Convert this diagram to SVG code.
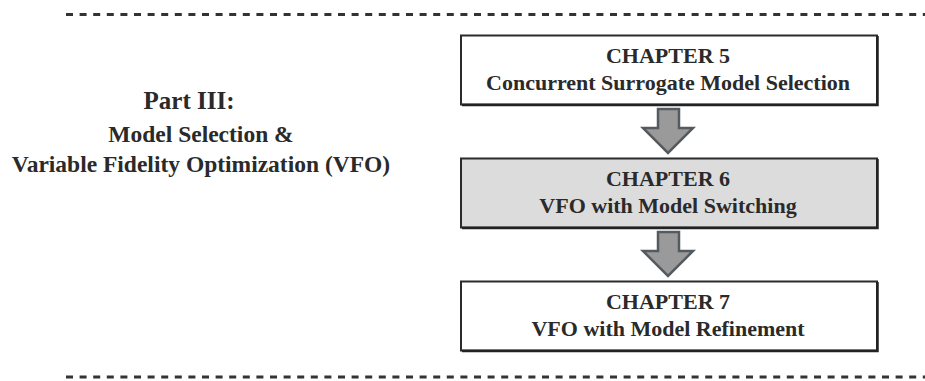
<svg xmlns="http://www.w3.org/2000/svg" width="925" height="381" viewBox="0 0 925 381">
<defs>
<style>
.sep{stroke:#333;stroke-width:3;stroke-dasharray:7 6.6;fill:none}
.box{stroke:#2b2b2b;stroke-width:2}
.shadow{stroke:#222;stroke-width:2.5;fill:none}
.t{font-family:"Liberation Serif","Times New Roman",serif;font-weight:bold;fill:#2a2a2a;text-anchor:middle}
.bt{font-size:22px}
.lt{font-size:23.5px}
.arrow{fill:#9a9a9a;stroke:#555a5f;stroke-width:2.5;stroke-linejoin:miter}
</style>
</defs>
<rect width="925" height="381" fill="#fff"/>
<g id="separators">
<line class="sep" x1="66" y1="14.5" x2="925" y2="14.5"/>
<line class="sep" x1="66" y1="377" x2="925" y2="377"/>
</g>
<g id="part-label">
<text class="t" x="189" y="109" font-size="25">Part III:</text>
<text class="t lt" x="201" y="142">Model Selection &amp;</text>
<text class="t lt" x="201" y="172">Variable Fidelity Optimization (VFO)</text>
</g>
<g id="chapter5">
<rect class="box" x="461" y="35.5" width="416" height="69" fill="#fff"/>
<path class="shadow" d="M877.5 36 V105 H462"/>
<text class="t bt" x="668" y="63">CHAPTER 5</text>
<text class="t bt" x="668" y="90">Concurrent Surrogate Model Selection</text>
</g>
<g id="chapter6">
<rect class="box" x="461" y="158.5" width="416" height="69" fill="#dcdcdd"/>
<path class="shadow" d="M877.5 159 V228 H462"/>
<text class="t bt" x="668" y="186">CHAPTER 6</text>
<text class="t bt" x="668" y="213">VFO with Model Switching</text>
</g>
<g id="chapter7">
<rect class="box" x="461" y="281.5" width="416" height="69" fill="#fff"/>
<path class="shadow" d="M877.5 282 V351 H462"/>
<text class="t bt" x="668" y="309">CHAPTER 7</text>
<text class="t bt" x="668" y="336">VFO with Model Refinement</text>
</g>
<g id="connectors">
<polygon class="arrow" points="658,109 679,109 679,128 693,128 668,153 643,128 658,128"/>
<polygon class="arrow" points="658,232 679,232 679,251 693,251 668,276 643,251 658,251"/>
</g>
</svg>
